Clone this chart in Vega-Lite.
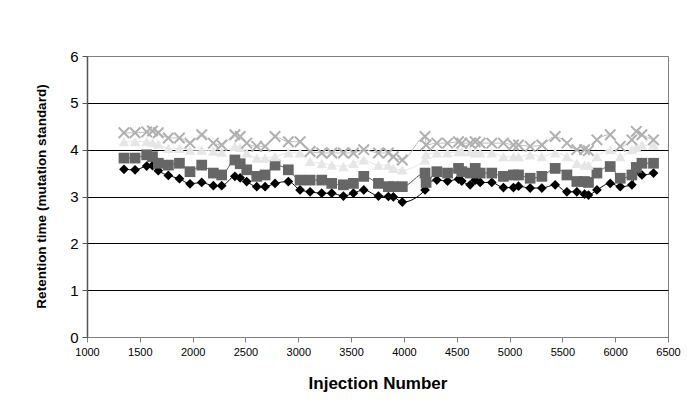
{
  "$schema": "https://vega.github.io/schema/vega-lite/v6.json",
  "autosize": {"type": "none"},
  "padding": {"left": 87, "top": 56, "right": 19, "bottom": 76},
  "width": 581,
  "height": 281,
  "background": "white",
  "config": {
    "font": "Liberation Sans",
    "view": {"stroke": "#808080", "strokeWidth": 1}
  },
  "data": {
    "values": [
      {"n": 1350, "a": 3.58, "b": 3.82, "c": 4.17, "d": 4.36},
      {"n": 1455, "a": 3.57, "b": 3.82, "c": 4.17, "d": 4.36},
      {"n": 1565, "a": 3.65, "b": 3.89, "c": 4.17, "d": 4.38},
      {"n": 1620, "a": 3.66, "b": 3.85, "c": 4.15, "d": 4.4},
      {"n": 1675, "a": 3.55, "b": 3.71, "c": 4.12, "d": 4.36},
      {"n": 1770, "a": 3.45, "b": 3.67, "c": 4.03, "d": 4.25},
      {"n": 1875, "a": 3.38, "b": 3.71, "c": 4.03, "d": 4.25},
      {"n": 1975, "a": 3.27, "b": 3.53, "c": 3.99, "d": 4.14},
      {"n": 2086, "a": 3.3, "b": 3.67, "c": 3.99, "d": 4.32},
      {"n": 2196, "a": 3.23, "b": 3.5, "c": 3.97, "d": 4.14},
      {"n": 2275, "a": 3.23, "b": 3.46, "c": 3.95, "d": 4.1},
      {"n": 2400, "a": 3.43, "b": 3.78, "c": 4.07, "d": 4.32},
      {"n": 2450, "a": 3.4, "b": 3.7, "c": 4.05, "d": 4.28},
      {"n": 2512, "a": 3.32, "b": 3.57, "c": 3.93, "d": 4.14},
      {"n": 2607, "a": 3.21, "b": 3.43, "c": 3.82, "d": 4.07},
      {"n": 2686, "a": 3.21, "b": 3.46, "c": 3.82, "d": 4.07},
      {"n": 2780, "a": 3.28, "b": 3.67, "c": 3.85, "d": 4.28},
      {"n": 2906, "a": 3.32, "b": 3.57, "c": 3.93, "d": 4.17},
      {"n": 3017, "a": 3.14, "b": 3.35, "c": 3.93, "d": 4.17},
      {"n": 3112, "a": 3.1, "b": 3.35, "c": 3.75, "d": 3.96},
      {"n": 3222, "a": 3.07, "b": 3.35, "c": 3.71, "d": 3.93},
      {"n": 3317, "a": 3.07, "b": 3.28, "c": 3.67, "d": 3.93},
      {"n": 3427, "a": 3.01, "b": 3.25, "c": 3.64, "d": 3.93},
      {"n": 3522, "a": 3.07, "b": 3.28, "c": 3.71, "d": 3.93},
      {"n": 3620, "a": 3.14, "b": 3.43, "c": 3.78, "d": 4.0},
      {"n": 3759, "a": 3.01, "b": 3.28, "c": 3.67, "d": 3.93},
      {"n": 3853, "a": 3.0, "b": 3.21, "c": 3.67, "d": 3.93},
      {"n": 3900, "a": 2.99, "b": 3.21, "c": 3.6, "d": 3.85},
      {"n": 3985, "a": 2.88, "b": 3.21, "c": 3.57, "d": 3.78},
      {"n": 4200, "a": 3.14, "b": 3.5, "c": 3.78, "d": 4.28},
      {"n": 4210, "a": 3.25, "b": 3.3, "c": 3.9, "d": 4.1},
      {"n": 4312, "a": 3.35, "b": 3.53, "c": 3.93, "d": 4.14},
      {"n": 4413, "a": 3.33, "b": 3.5, "c": 3.93, "d": 4.14},
      {"n": 4517, "a": 3.37, "b": 3.6, "c": 3.96, "d": 4.17},
      {"n": 4548, "a": 3.33, "b": 3.53, "c": 3.96, "d": 4.14},
      {"n": 4627, "a": 3.25, "b": 3.5, "c": 3.96, "d": 4.14},
      {"n": 4675, "a": 3.35, "b": 3.6, "c": 3.93, "d": 4.17},
      {"n": 4722, "a": 3.3, "b": 3.5, "c": 3.93, "d": 4.14},
      {"n": 4832, "a": 3.3, "b": 3.5, "c": 3.93, "d": 4.14},
      {"n": 4942, "a": 3.19, "b": 3.43, "c": 3.85, "d": 4.14},
      {"n": 5037, "a": 3.19, "b": 3.46, "c": 3.85, "d": 4.1},
      {"n": 5085, "a": 3.22, "b": 3.46, "c": 3.85, "d": 4.1},
      {"n": 5195, "a": 3.18, "b": 3.39, "c": 3.89, "d": 4.07},
      {"n": 5306, "a": 3.18, "b": 3.43, "c": 3.85, "d": 4.1},
      {"n": 5432, "a": 3.25, "b": 3.6, "c": 3.93, "d": 4.28},
      {"n": 5543, "a": 3.1, "b": 3.46, "c": 3.85, "d": 4.14},
      {"n": 5637, "a": 3.1, "b": 3.32, "c": 3.71, "d": 4.0},
      {"n": 5710, "a": 3.05, "b": 3.32, "c": 3.67, "d": 4.0},
      {"n": 5747, "a": 3.03, "b": 3.3, "c": 3.67, "d": 3.98},
      {"n": 5827, "a": 3.14, "b": 3.5, "c": 3.85, "d": 4.21},
      {"n": 5953, "a": 3.28, "b": 3.64, "c": 4.0, "d": 4.32},
      {"n": 6048, "a": 3.21, "b": 3.39, "c": 3.85, "d": 4.07},
      {"n": 6158, "a": 3.25, "b": 3.46, "c": 4.0, "d": 4.21},
      {"n": 6200, "a": 3.55, "b": 3.62, "c": 4.05, "d": 4.39},
      {"n": 6253, "a": 3.46, "b": 3.71, "c": 4.1, "d": 4.32},
      {"n": 6363, "a": 3.5, "b": 3.71, "c": 4.1, "d": 4.21}
    ]
  },
  "encoding": {
    "x": {
      "field": "n", "type": "quantitative",
      "scale": {"domain": [1000, 6500], "nice": false, "zero": false},
      "axis": {
        "title": "Injection Number",
        "values": [1000, 1500, 2000, 2500, 3000, 3500, 4000, 4500, 5000, 5500, 6000, 6500],
        "format": "d",
        "grid": false,
        "domainColor": "#808080",
        "tickColor": "#808080",
        "tickSize": 5,
        "labelFontSize": 11,
        "labelColor": "black",
        "labelPadding": 4,
        "labelFlush": false,
        "titleFontSize": 17,
        "titleFontWeight": "bold",
        "titleColor": "black",
        "titleY": 46,
        "titleBaseline": "middle"
      }
    }
  },
  "layer": [
    {"mark": {"type": "line", "interpolate": "monotone", "color": "#000000", "strokeWidth": 1}, "encoding": {"y": {"field": "a", "type": "quantitative", "scale": {"domain": [0, 6], "nice": false}, "axis": {
        "title": "Retention time (mutation standard)",
        "values": [0, 1, 2, 3, 4, 5, 6],
        "gridColor": {"condition": {"test": "datum.value == 6", "value": "#808080"}, "value": "#000000"},
        "gridWidth": 1,
        "domainColor": "#555555",
        "domainWidth": 1.5,
        "tickColor": "#555555",
        "tickSize": 5,
        "labelFontSize": 15,
        "labelColor": "black",
        "labelPadding": 4,
        "titleFontSize": 13.5,
        "titleFontWeight": "bold",
        "titleColor": "black",
        "titleX": -46,
        "titleY": 140,
        "titleBaseline": "middle",
        "titleAngle": -90
      }}}},
    {"mark": {"type": "line", "interpolate": "monotone", "color": "#555555", "strokeWidth": 1}, "encoding": {"y": {"field": "b", "type": "quantitative"}}},
    {"mark": {"type": "line", "interpolate": "monotone", "color": "#e6e6e6", "strokeWidth": 1}, "encoding": {"y": {"field": "c", "type": "quantitative"}}},
    {"mark": {"type": "line", "interpolate": "monotone", "color": "#c0c0c0", "strokeWidth": 1}, "encoding": {"y": {"field": "d", "type": "quantitative"}}},
    {"mark": {"type": "point", "shape": "diamond", "filled": true, "color": "#000000", "size": 95, "opacity": 1}, "encoding": {"y": {"field": "a", "type": "quantitative"}}},
    {"mark": {"type": "point", "shape": "square", "filled": true, "color": "#666666", "size": 115, "opacity": 1}, "encoding": {"y": {"field": "b", "type": "quantitative"}}},
    {"mark": {"type": "point", "shape": "triangle-up", "filled": true, "color": "#e6e6e6", "size": 115, "opacity": 1}, "encoding": {"y": {"field": "c", "type": "quantitative"}}},
    {"mark": {"type": "point", "shape": "M-1,-1L1,1M-1,1L1,-1", "filled": false, "color": "#b0b0b0", "strokeWidth": 2, "size": 110, "opacity": 1}, "encoding": {"y": {"field": "d", "type": "quantitative"}}}
  ],
  "resolve": {"scale": {"y": "shared"}}
}
